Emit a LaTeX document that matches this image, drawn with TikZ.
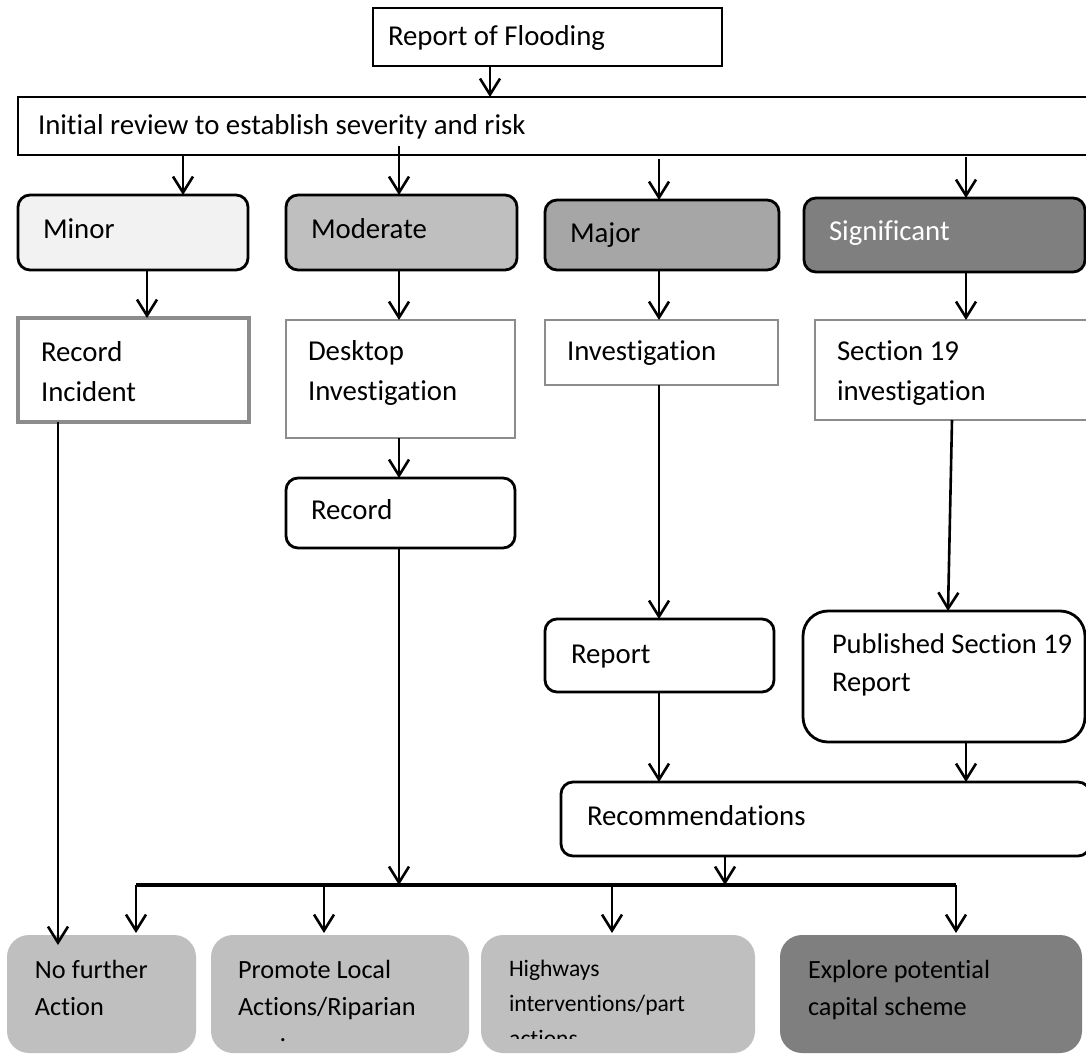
\documentclass[tikz,border=0pt]{standalone}
\usepackage{fontspec}
\setmainfont{Carlito}[Ligatures=NoCommon]
\usetikzlibrary{arrows.meta,calc}
\definecolor{cminor}{HTML}{F2F2F2}
\definecolor{cmod}{HTML}{BFBFBF}
\definecolor{cmajor}{HTML}{A6A6A6}
\definecolor{csig}{HTML}{7F7F7F}
\definecolor{gborder}{HTML}{8C8C8C}
\newcommand{\fmain}{\fontsize{28.8}{40}\selectfont}
\newcommand{\fpub}{\fontsize{28.5}{38}\selectfont}
\newcommand{\fbot}{\fontsize{26.3}{37}\selectfont}
\newcommand{\fhw}{\fontsize{23.6}{35}\selectfont}
\newcommand{\bxt}[5]{\begin{minipage}[c][#2pt][t]{#1pt}\raggedright\leftskip=#4pt\relax\vspace*{#3pt}#5\end{minipage}}
\begin{document}
\begin{tikzpicture}[x=1pt,y=-1pt,
  tb/.style={inner sep=0pt, outer sep=0pt, anchor=north west, font=\fmain},
  lvl/.style={tb, draw=black, line width=2.8pt, rounded corners=12pt},
  plainbox/.style={tb, draw=black, fill=white},
  gbox/.style={tb, draw=gborder, line width=2.8pt, fill=white},
  rbox/.style={tb, draw=black, line width=2.8pt, rounded corners=12pt, fill=white},
  outb/.style={tb, fill=cmod, rounded corners=22pt, font=\fbot},
  arr/.style={line width=2.6pt, -{Straight Barb[length=16pt,width=20pt,line width=2.6pt]}},
  busline/.style={line width=4pt}]
\useasboundingbox (0,0) rectangle (1086,1054);
\clip (0,0) rectangle (1086,1054);
\fill[white] (0,0) rectangle (1086,1054);

% columns
\coordinate (c490) at (490,0);
\coordinate (c183) at (183,0);
\coordinate (c399) at (399,0);
\coordinate (c659) at (659,0);
\coordinate (c966) at (966,0);
\coordinate (c147) at (147,0);
\coordinate (c58) at (58,0);
\coordinate (c952) at (952,0);
\coordinate (c948) at (948,0);
\coordinate (c725) at (725,0);
\coordinate (c324) at (324,0);
\coordinate (c612) at (612,0);
\coordinate (busL) at (136,885);
\coordinate (busR) at (956,885);

% top
\node[plainbox, line width=1.6pt] (rof) at (373,8) {\bxt{349}{58}{10}{15}{\strut Report of Flooding}};
\node[plainbox, line width=1.1pt] (ir) at (18,97) {\bxt{1072}{58}{10}{20}{\strut Initial review to establish severity and risk}};

% severity levels
\node[lvl, fill=cminor] (minor) at (18,195) {\bxt{230}{75}{15}{25}{\strut Minor}};
\node[lvl, fill=cmod] (moderate) at (286,195) {\bxt{231}{75}{15}{25}{\strut Moderate}};
\node[lvl, fill=cmajor] (major) at (545,200) {\bxt{234}{70}{14}{25}{\strut Major}};
\node[lvl, fill=csig, text=white] (signif) at (804,198) {\bxt{281}{74}{14}{25}{\strut Significant}};

% second level
\node[gbox, line width=4.5pt] (recinc) at (18,318) {\bxt{231}{104}{15}{23}{\strut Record\\\strut Incident}};
\node[gbox] (desktop) at (286,320) {\bxt{229}{118}{12}{22}{\strut Desktop\\\strut Investigation}};
\node[gbox] (invest) at (545,320) {\bxt{233}{65}{12}{22}{\strut Investigation}};
\node[gbox] (sec19) at (815,320) {\bxt{275}{100}{12}{22}{\strut Section 19\\\strut investigation}};

% third level
\node[rbox] (record) at (286,478) {\bxt{229}{70}{13}{25}{\strut Record}};
\node[rbox] (report) at (545,619) {\bxt{229}{73}{16}{26}{\strut Report}};
\node[rbox, rounded corners=25pt, font=\fpub] (published) at (803,611) {\bxt{282}{131}{16}{29}{\strut Published Section 19\\\strut Report}};
\node[rbox] (recomm) at (561,782) {\bxt{529}{74}{15}{26}{\strut Recommendations}};

% outcomes
\node[outb] (nofurther) at (7,935) {\bxt{189}{118}{18}{28}{\strut No further\\\strut Action}};
\node[outb] (promote) at (211,935) {\bxt{258}{118}{18}{27}{\strut Promote Local\\\strut Actions/Riparian}};
\node[outb, font=\fhw] (highways) at (481,935) {\bxt{274}{118}{16.5}{28}{\strut Highways\\\strut interventions/part}};
\node[outb, fill=csig] (explore) at (780,935) {\bxt{302}{118}{18}{28}{\strut Explore potential\\\strut capital scheme}};
\begin{scope}
  \clip (481,1000) rectangle (755,1038);
  \node[anchor=base west, inner sep=0pt, font=\fhw] (hwmore) at (509,1046) {actions};
\end{scope}
\node[anchor=base, inner sep=0pt, font=\fbot] (prmore) at (283,1041) {.};

% connectors
\draw[arr] (rof.south -| c490) -- (ir.north -| c490);
\draw[arr] (ir.south -| c183) -- (minor.north -| c183);
\draw[arr] ($(ir.south -| c399)+(0,-9)$) -- (moderate.north -| c399);
\draw[arr] ($(ir.south -| c659)+(0,4)$) -- (major.north -| c659);
\draw[arr] ($(ir.south -| c966)+(0,2)$) -- (signif.north -| c966);

\draw[arr] (minor.south -| c147) -- (recinc.north -| c147);
\draw[arr] (moderate.south -| c399) -- (desktop.north -| c399);
\draw[arr] (major.south -| c659) -- (invest.north -| c659);
\draw[arr] (signif.south -| c966) -- (sec19.north -| c966);

\draw[arr] (recinc.south -| c58) -- ($(nofurther.north -| c58)+(0,10)$);
\draw[arr] (desktop.south -| c399) -- (record.north -| c399);
\draw[arr] (record.south -| c399) -- (busL -| c399);
\draw[arr] (invest.south -| c659) -- (report.north -| c659);
\draw[arr] (sec19.south -| c952) -- (published.north -| c948);
\draw[arr] (report.south -| c659) -- (recomm.north -| c659);
\draw[arr] (published.south -| c966) -- (recomm.north -| c966);
\draw[arr] (recomm.south -| c725) -- (busL -| c725);

\draw[busline] (busL) -- (busR);
\draw[arr] (busL) -- ($(nofurther.north -| busL)+(0,-2)$);
\draw[arr] (busL -| c324) -- ($(promote.north -| c324)+(0,-2)$);
\draw[arr] (busL -| c612) -- ($(highways.north -| c612)+(0,-2)$);
\draw[arr] (busR) -- ($(explore.north -| busR)+(0,-2)$);
\end{tikzpicture}
\end{document}
